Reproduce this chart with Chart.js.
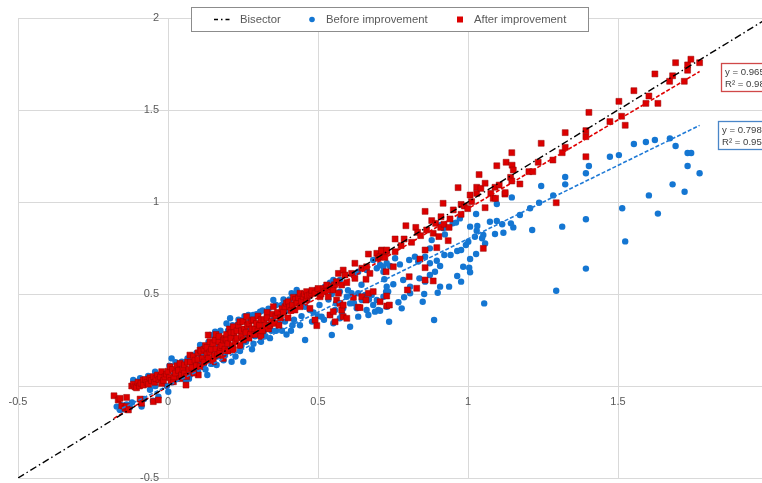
<!DOCTYPE html>
<html><head><meta charset="utf-8">
<script src="https://cdn.jsdelivr.net/npm/chart.js@4.4.0/dist/chart.umd.min.js"></script>
<style>
html,body{margin:0;padding:0;background:#fff;overflow:hidden;width:762px;height:483px;position:relative}
#wrap{position:absolute;left:-20px;top:-20px;width:800px;height:520px}
</style></head><body>
<div id="wrap"><canvas id="c" width="800" height="520"></canvas></div>
<script>
const seriesNames = ['Bisector', 'Before improvement', 'After improvement'];
const axisTicks = [-0.5, 0, 0.5, 1, 1.5, 2];
const bisectorX = [-0.5, 2];
const trendSlopes = [0.7987, 0.9656];
const trendIntercepts = [0.001, -0.002];
const trendR2 = [0.9551, 0.9843];

const beforePoints = [
[-0.171,-0.112],[-0.16,-0.13],[-0.155,-0.105],[-0.149,-0.127],[-0.138,-0.1],[-0.127,-0.116],[-0.12,-0.09],[-0.116,0.033],[-0.104,0.023],[-0.1,0.01],[-0.093,0.042],[-0.088,-0.112],[-0.08,-0.07],[-0.075,0.02],[-0.066,0.054],[-0.06,-0.02],[-0.05,-0.08],[-0.043,0.078],[-0.043,0.0],[-0.032,-0.058],[-0.03,0.04],[-0.02,0.02],[-0.01,0.06],[-0.004,0.0],[0.001,-0.031],
[0.005,0.11],[0.012,0.15],[0.015,0.02],[0.02,0.06],[0.025,0.13],[0.03,0.1],[0.034,0.042],[0.04,0.07],[0.046,0.132],[0.05,0.08],[0.055,0.1],[0.06,0.03],[0.065,0.15],[0.07,0.04],[0.073,0.06],[0.079,0.168],[0.08,0.11],[0.085,0.09],[0.09,0.14],[0.095,0.18],[0.1,0.08],[0.105,0.12],[0.107,0.223],[0.11,0.17],[0.115,0.2],[0.12,0.12],[0.125,0.09],[0.131,0.06],[0.135,0.24],[0.14,0.277],[0.14,0.2],[0.145,0.12],[0.15,0.15],[0.155,0.27],[0.157,0.295],[0.162,0.114],[0.165,0.16],[0.17,0.22],[0.175,0.3],[0.18,0.25],[0.185,0.14],[0.19,0.17],[0.195,0.34],[0.2,0.3],[0.2,0.2],[0.207,0.368],[0.21,0.21],[0.212,0.132],[0.215,0.33],[0.22,0.27],[0.225,0.16],[0.23,0.33],[0.235,0.36],[0.24,0.19],[0.245,0.22],[0.251,0.132],[0.251,0.359],[0.255,0.38],[0.26,0.24],[0.265,0.27],[0.268,0.386],[0.27,0.3],[0.275,0.36],[0.28,0.2],[0.284,0.386],[0.285,0.23],[0.29,0.27],[0.295,0.39],[0.3,0.33],[0.305,0.3],[0.307,0.404],[0.31,0.24],[0.315,0.41],[0.32,0.3],[0.325,0.27],[0.329,0.368],[0.335,0.42],[0.34,0.26],[0.345,0.3],[0.351,0.467],[0.351,0.359],[0.36,0.3],[0.36,0.44],[0.37,0.34],[0.373,0.386],[0.379,0.44],[0.38,0.3],[0.385,0.47],[0.39,0.35],[0.395,0.28],[0.401,0.413],[0.405,0.47],[0.41,0.3],[0.412,0.504],[0.415,0.33],[0.42,0.36],[0.425,0.5],[0.429,0.522],[0.434,0.485],[0.44,0.33],[0.445,0.38],[0.457,0.431],[0.457,0.25],[0.465,0.47],[0.473,0.413],[0.48,0.35],[0.485,0.4],[0.496,0.522],[0.5,0.38],[0.505,0.44],[0.512,0.377],[0.52,0.36],[0.523,0.54],[0.529,0.522],[0.535,0.47],[0.54,0.562],[0.54,0.386],[0.546,0.5],[0.546,0.277],[0.551,0.576],[0.551,0.341],[0.557,0.413],[0.56,0.45],[0.573,0.576],[0.573,0.513],[0.573,0.368],[0.58,0.39],[0.584,0.422],[0.596,0.485],[0.6,0.52],[0.607,0.449],[0.607,0.322],[0.612,0.504],[0.618,0.603],[0.62,0.45],[0.629,0.422],[0.634,0.621],[0.634,0.504],[0.634,0.377],[0.645,0.55],[0.646,0.467],[0.657,0.495],[0.662,0.63],[0.662,0.413],[0.668,0.386],[0.67,0.47],[0.679,0.495],[0.684,0.685],[0.684,0.44],[0.69,0.404],[0.696,0.64],[0.696,0.467],[0.701,0.413],[0.707,0.658],[0.707,0.409],[0.718,0.621],[0.718,0.485],[0.718,0.648],[0.721,0.58],[0.727,0.513],[0.729,0.667],[0.729,0.54],[0.729,0.431],[0.734,0.513],[0.737,0.349],[0.74,0.652],[0.751,0.553],[0.757,0.694],[0.768,0.455],[0.773,0.661],[0.779,0.422],[0.784,0.576],[0.787,0.482],[0.804,0.685],[0.807,0.54],[0.807,0.504],[0.823,0.703],[0.834,0.676],[0.838,0.585],[0.849,0.458],[0.854,0.5],[0.857,0.703],[0.857,0.567],[0.873,0.667],[0.873,0.748],[0.873,0.603],[0.879,0.793],[0.887,0.359],[0.89,0.621],[0.896,0.681],[0.899,0.507],[0.907,0.652],[0.907,0.54],[0.91,0.875],[0.918,0.857],[0.921,0.712],[0.923,0.824],[0.937,0.54],[0.942,0.712],[0.949,0.884],[0.96,0.888],[0.964,0.734],[0.964,0.598],[0.973,0.911],[0.977,0.739],[0.977,0.567],[0.984,0.648],[0.993,0.766],[1.001,0.784],[1.004,0.643],[1.007,0.866],[1.007,0.69],[1.007,0.618],[1.023,0.811],[1.027,0.935],[1.027,0.717],[1.029,0.844],[1.031,0.87],[1.047,0.803],[1.051,0.821],[1.054,0.449],[1.057,0.775],[1.073,0.893],[1.09,0.826],[1.096,0.989],[1.096,0.897],[1.114,0.879],[1.118,0.833],[1.143,0.884],[1.146,1.025],[1.151,0.862],[1.173,0.929],[1.207,0.966],[1.214,0.848],[1.237,0.996],[1.244,1.087],[1.284,1.036],[1.294,0.518],[1.314,0.866],[1.324,1.136],[1.324,1.096],[1.393,1.156],[1.393,0.906],[1.393,0.638],[1.403,1.196],[1.473,1.246],[1.503,1.255],[1.514,0.966],[1.524,0.786],[1.553,1.315],[1.593,1.326],[1.603,1.036],[1.623,1.337],[1.633,0.937],[1.673,1.346],[1.682,1.096],[1.692,1.304],[1.722,1.056],[1.732,1.266],[1.744,1.266],[1.732,1.196],[1.772,1.156]
];

const afterPoints = [
[-0.18,-0.053],[-0.166,-0.076],[-0.16,-0.067],[-0.154,-0.109],[-0.143,-0.121],[-0.138,-0.112],[-0.138,-0.062],[-0.132,-0.13],[-0.093,-0.071],[-0.088,-0.094],[-0.049,-0.085],[-0.032,-0.076],[0.06,0.005],[0.101,0.06],
[-0.121,0.0],[-0.115,0.01],[-0.11,-0.005],[-0.105,-0.01],[-0.1,0.02],[-0.095,0.0],[-0.09,0.015],[-0.082,0.033],[-0.082,0.005],[-0.075,0.035],[-0.07,0.02],[-0.065,0.01],[-0.06,0.045],[-0.055,0.03],[-0.049,0.051],[-0.045,0.02],[-0.04,0.04],[-0.035,0.06],[-0.03,0.035],[-0.025,0.05],[-0.021,0.078],[-0.021,0.014],[-0.015,0.03],[-0.01,0.05],[-0.005,0.065],[0.0,0.08],[0.005,0.045],[0.007,0.105],[0.01,0.03],[0.015,0.09],[0.018,0.023],[0.02,0.05],[0.025,0.07],[0.03,0.11],[0.035,0.085],[0.04,0.123],[0.04,0.04],[0.045,0.06],[0.05,0.09],[0.055,0.115],[0.055,0.07],[0.062,0.051],[0.065,0.13],[0.07,0.09],[0.073,0.168],[0.075,0.13],[0.08,0.1],[0.085,0.16],[0.085,0.07],[0.09,0.14],[0.095,0.11],[0.1,0.18],[0.1,0.145],[0.107,0.196],[0.107,0.105],[0.11,0.19],[0.115,0.15],[0.12,0.13],[0.12,0.2],[0.125,0.22],[0.13,0.17],[0.13,0.21],[0.134,0.277],[0.135,0.15],[0.14,0.241],[0.14,0.185],[0.145,0.2],[0.15,0.23],[0.151,0.132],[0.155,0.165],[0.157,0.25],[0.16,0.28],[0.16,0.2],[0.165,0.17],[0.17,0.24],[0.17,0.27],[0.173,0.186],[0.175,0.21],[0.18,0.22],[0.184,0.15],[0.185,0.25],[0.19,0.26],[0.19,0.2],[0.195,0.28],[0.196,0.25],[0.2,0.19],[0.2,0.23],[0.205,0.31],[0.21,0.29],[0.21,0.26],[0.215,0.22],[0.218,0.322],[0.218,0.196],[0.22,0.29],[0.225,0.24],[0.23,0.3],[0.23,0.26],[0.235,0.33],[0.24,0.349],[0.24,0.22],[0.245,0.27],[0.245,0.3],[0.25,0.35],[0.251,0.25],[0.255,0.31],[0.26,0.29],[0.262,0.377],[0.265,0.33],[0.27,0.34],[0.27,0.26],[0.275,0.28],[0.28,0.31],[0.28,0.355],[0.285,0.36],[0.29,0.31],[0.29,0.28],[0.295,0.34],[0.3,0.38],[0.3,0.3],[0.305,0.33],[0.31,0.27],[0.31,0.36],[0.315,0.3],[0.32,0.36],[0.325,0.33],[0.33,0.4],[0.33,0.37],[0.335,0.31],[0.34,0.33],[0.345,0.35],[0.35,0.39],[0.351,0.431],[0.355,0.34],[0.36,0.38],[0.365,0.4],[0.37,0.33],[0.375,0.37],[0.38,0.42],[0.385,0.4],[0.39,0.431],[0.395,0.45],[0.4,0.37],[0.401,0.458],[0.405,0.43],[0.41,0.41],[0.415,0.44],[0.418,0.482],[0.423,0.413],[0.425,0.47],[0.43,0.45],[0.435,0.48],[0.44,0.504],[0.44,0.431],[0.445,0.46],[0.451,0.485],[0.455,0.5],[0.462,0.513],[0.462,0.467],[0.465,0.49],[0.473,0.495],[0.473,0.422],[0.479,0.504],[0.48,0.52],[0.49,0.504],[0.49,0.359],[0.496,0.328],[0.5,0.53],[0.507,0.485],[0.51,0.5],[0.52,0.53],[0.523,0.513],[0.529,0.549],[0.534,0.485],[0.54,0.522],[0.54,0.386],[0.545,0.54],[0.551,0.522],[0.551,0.404],[0.555,0.55],[0.557,0.349],[0.562,0.567],[0.562,0.467],[0.568,0.612],[0.568,0.504],[0.573,0.449],[0.579,0.549],[0.579,0.413],[0.584,0.44],[0.584,0.63],[0.584,0.377],[0.59,0.603],[0.596,0.562],[0.596,0.368],[0.612,0.612],[0.618,0.482],[0.623,0.667],[0.623,0.585],[0.634,0.428],[0.64,0.426],[0.646,0.64],[0.646,0.485],[0.66,0.58],[0.66,0.467],[0.662,0.648],[0.668,0.717],[0.668,0.504],[0.673,0.612],[0.684,0.513],[0.696,0.721],[0.701,0.694],[0.707,0.703],[0.707,0.458],[0.712,0.739],[0.712,0.734],[0.718,0.703],[0.723,0.699],[0.727,0.621],[0.729,0.73],[0.729,0.739],[0.729,0.489],[0.729,0.435],[0.738,0.44],[0.751,0.648],[0.757,0.799],[0.757,0.73],[0.777,0.763],[0.787,0.799],[0.793,0.871],[0.798,0.522],[0.804,0.594],[0.812,0.781],[0.826,0.862],[0.829,0.531],[0.832,0.835],[0.84,0.69],[0.842,0.817],[0.857,0.949],[0.857,0.739],[0.857,0.643],[0.857,0.576],[0.862,0.848],[0.879,0.899],[0.884,0.83],[0.884,0.571],[0.892,0.884],[0.896,0.752],[0.903,0.812],[0.909,0.862],[0.91,0.92],[0.917,0.993],[0.92,0.879],[0.934,0.79],[0.937,0.862],[0.94,0.908],[0.951,0.957],[0.967,1.078],[0.977,0.987],[0.977,0.933],[0.988,0.978],[0.999,0.964],[1.007,1.038],[1.012,1.002],[1.029,1.047],[1.029,1.08],[1.037,1.149],[1.043,1.074],[1.051,0.748],[1.057,1.102],[1.057,0.969],[1.076,1.047],[1.084,1.02],[1.09,1.08],[1.092,1.02],[1.096,1.197],[1.104,1.092],[1.123,1.043],[1.124,1.051],[1.127,1.216],[1.142,1.134],[1.146,1.268],[1.146,1.114],[1.147,1.2],[1.151,1.174],[1.173,1.098],[1.203,1.165],[1.216,1.165],[1.234,1.216],[1.244,1.319],[1.283,1.228],[1.294,0.996],[1.314,1.268],[1.324,1.377],[1.324,1.297],[1.393,1.388],[1.393,1.355],[1.393,1.246],[1.403,1.487],[1.473,1.437],[1.503,1.547],[1.512,1.466],[1.524,1.417],[1.553,1.605],[1.593,1.536],[1.603,1.576],[1.623,1.696],[1.633,1.536],[1.672,1.656],[1.682,1.686],[1.692,1.757],[1.721,1.656],[1.732,1.716],[1.732,1.745],[1.743,1.776],[1.772,1.757]
];

// ---- styling / layout (not data) ----
const OFF = 20; // wrapper offset in px
const FONT = '"Liberation Sans", Arial, sans-serif';
const BLUE = '#1476D2';
const RED = '#DC0000';
const TXT = '#595959';
const GRID = '#D9D9D9';

const toXY = pts => pts.map(p => ({x: p[0], y: p[1]}));
function trendData(pts, i) {
  const xs = pts.map(p => p[0]);
  const x0 = Math.min(...xs), x1 = Math.max(...xs);
  return [x0, x1].map(x => ({x, y: trendSlopes[i] * x + trendIntercepts[i]}));
}
const fmt = v => String(Math.round(v * 100) / 100);

const tickLabelPlugin = {
  id: 'tickLabels',
  beforeDatasetsDraw(chart) {
    const ctx = chart.ctx, xs = chart.scales.x, ys = chart.scales.y;
    const x0 = xs.getPixelForValue(0), y0 = ys.getPixelForValue(0);
    ctx.save();
    ctx.font = '11px ' + FONT;
    ctx.fillStyle = TXT;
    ctx.textBaseline = 'middle';
    ctx.textAlign = 'center';
    xs.ticks.forEach(t => ctx.fillText(fmt(t.value), xs.getPixelForValue(t.value), y0 + 16));
    ctx.textAlign = 'right';
    ys.ticks.forEach(t => ctx.fillText(fmt(t.value), x0 - 9, ys.getPixelForValue(t.value)));
    ctx.restore();
  }
};

const overlayPlugin = {
  id: 'overlay',
  afterDraw(chart) {
    const ctx = chart.ctx;
    const ds = chart.data.datasets;
    ctx.save();
    // legend box
    ctx.fillStyle = '#fff';
    ctx.strokeStyle = '#8C8C8C';
    ctx.lineWidth = 1;
    ctx.fillRect(191.5 + OFF, 7.5 + OFF, 397, 24);
    ctx.strokeRect(191.5 + OFF, 7.5 + OFF, 397, 24);
    const ly = 19.5 + OFF;
    ctx.font = '11.3px ' + FONT;
    ctx.fillStyle = TXT;
    ctx.textBaseline = 'middle';
    ctx.textAlign = 'left';
    // bisector sample
    ctx.beginPath();
    ctx.setLineDash([4, 3, 1.5, 3]);
    ctx.strokeStyle = ds[0].borderColor;
    ctx.lineWidth = 1.5;
    ctx.moveTo(214 + OFF, ly); ctx.lineTo(232 + OFF, ly);
    ctx.stroke();
    ctx.setLineDash([]);
    ctx.fillText(ds[0].label, 240 + OFF, ly);
    // before sample
    ctx.beginPath();
    ctx.fillStyle = ds[1].backgroundColor;
    ctx.arc(312 + OFF, ly, 2.8, 0, Math.PI * 2);
    ctx.fill();
    ctx.fillStyle = TXT;
    ctx.fillText(ds[1].label, 326 + OFF, ly);
    // after sample
    ctx.fillStyle = ds[2].backgroundColor;
    ctx.fillRect(457 + OFF, ly - 3, 6, 6);
    ctx.fillStyle = TXT;
    ctx.fillText(ds[2].label, 474 + OFF, ly);

    // trendline equation boxes
    const boxes = [
      {i: 1, x: 721.5, y: 63.5, color: '#D04848'},
      {i: 0, x: 718.5, y: 121.5, color: '#4A86C8'}
    ];
    boxes.forEach(b => {
      ctx.fillStyle = '#fff';
      ctx.strokeStyle = b.color;
      ctx.lineWidth = 1.3;
      ctx.fillRect(b.x + OFF, b.y + OFF, 95, 28);
      ctx.strokeRect(b.x + OFF, b.y + OFF, 95, 28);
      ctx.fillStyle = '#404040';
      ctx.font = '9.6px ' + FONT;
      const s = trendSlopes[b.i], c = trendIntercepts[b.i];
      const eq = 'y = ' + s.toFixed(4) + 'x ' + (c < 0 ? '- ' : '+ ') + Math.abs(c).toFixed(4);
      ctx.fillText(eq, b.x + 3.5 + OFF, b.y + 9 + OFF);
      ctx.fillText('R² = ' + trendR2[b.i].toFixed(4), b.x + 3.5 + OFF, b.y + 20.5 + OFF);
    });
    ctx.restore();
  }
};

new Chart(document.getElementById('c'), {
  type: 'scatter',
  data: {
    datasets: [
      {label: seriesNames[0], data: bisectorX.map(v => ({x: v, y: v})), showLine: true,
       borderColor: '#000', borderWidth: 1.4, borderDash: [7, 3, 1.5, 3], pointRadius: 0, order: 0},
      {label: seriesNames[1], data: toXY(beforePoints), backgroundColor: BLUE, borderColor: BLUE,
       borderWidth: 0, pointStyle: 'circle', pointRadius: 3.2, order: 4},
      {label: seriesNames[2], data: toXY(afterPoints), backgroundColor: RED, borderColor: 'rgba(150,0,0,0.85)',
       borderWidth: 0.6, pointStyle: 'rect', pointRadius: 4.2, order: 3},
      {label: 'trend before', data: trendData(beforePoints, 0), showLine: true,
       borderColor: '#1F7AD6', borderWidth: 1.6, borderDash: [4, 2], pointRadius: 0, order: 1},
      {label: 'trend after', data: trendData(afterPoints, 1), showLine: true,
       borderColor: '#E00000', borderWidth: 1.6, borderDash: [4, 2], pointRadius: 0, order: 1}
    ]
  },
  options: {
    responsive: false,
    animation: false,
    events: [],
    layout: {padding: {left: 18 + OFF, top: 18 + OFF, right: 12, bottom: 22}},
    plugins: {legend: {display: false}, tooltip: {enabled: false}},
    scales: {
      x: {
        type: 'linear', min: -0.5, max: 2, position: {y: 0},
        afterBuildTicks: s => { s.ticks = axisTicks.map(v => ({value: v})); },
        grid: {color: GRID, lineWidth: 1, drawTicks: false},
        border: {color: GRID},
        ticks: {display: false}
      },
      y: {
        type: 'linear', min: -0.5, max: 2, position: {x: 0},
        afterBuildTicks: s => { s.ticks = axisTicks.map(v => ({value: v})); },
        grid: {color: GRID, lineWidth: 1, drawTicks: false},
        border: {color: GRID},
        ticks: {display: false}
      }
    }
  },
  plugins: [tickLabelPlugin, overlayPlugin]
});
</script>
</body></html>
